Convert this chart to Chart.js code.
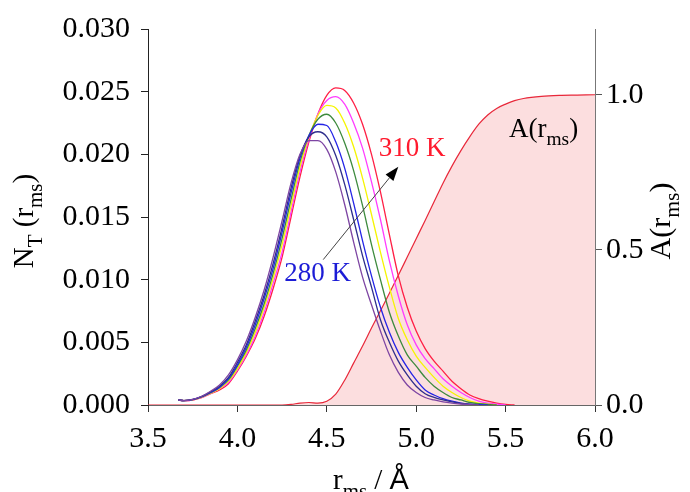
<!DOCTYPE html>
<html>
<head>
<meta charset="utf-8">
<script src="https://cdn.jsdelivr.net/npm/chart.js@4.4.0/dist/chart.umd.min.js"></script>
<style>
  html, body { margin: 0; padding: 0; background: #fff; }
  #c { display: block; }
</style>
</head>
<body>
<canvas id="c" width="690" height="492"></canvas>
<script>
// r_ms grid (Å) shared by the N_T curves
const rGrid = [3.67, 3.70, 3.75, 3.80, 3.85, 3.90, 3.95, 4.00, 4.05, 4.10, 4.15, 4.20, 4.25, 4.30, 4.35, 4.40, 4.45, 4.50, 4.55, 4.60,
  4.65, 4.70, 4.75, 4.80, 4.85, 4.90, 4.95, 5.00, 5.05, 5.10, 5.15, 5.20, 5.25, 5.30, 5.35, 5.40, 5.45, 5.50, 5.55, 5.60];

// N_T(r_ms) per temperature
const n280 = [.0004, .00035, .00045, .0007, .0011, .0016, .0024, .0036, .0051, .0070, .0092, .0118, .0147, .0177, .0200, .0211, .0211, .0204, .0186, .0160,
  .0130, .0102, .0080, .0059, .0040, .0026, .0016, .0010, .0006, .0004, .00025, .00015, .00008, .00003, 0, null, null, null, null, null];
const n285 = [.0004, .00035, .00044, .00068, .00105, .0015, .0022, .0034, .0048, .0067, .0088, .0113, .0142, .0173, .0199, .0214, .0218, .0214, .0199, .0176,
  .0148, .0119, .0094, .0068, .0050, .0035, .0024, .0015, .0009, .0006, .0004, .00025, .00012, .00005, 0, null, null, null, null, null];
const n290 = [.0004, .00035, .00043, .00066, .0010, .0014, .0021, .0032, .0046, .0064, .0085, .0109, .0138, .0169, .0197, .0215, .0224, .0223, .0210, .0189,
  .0161, .0131, .0103, .0078, .0058, .0042, .0030, .0020, .0012, .0008, .0005, .0003, .00015, .00007, .00003, 0, null, null, null, null];
const n295 = [.0004, .00035, .00042, .00064, .00098, .0014, .0020, .0031, .0044, .0061, .0081, .0105, .0133, .0164, .0194, .0215, .0228, .0232, .0225, .0209,
  .0187, .0159, .0128, .0100, .0074, .0055, .0040, .0031, .0022, .0015, .0010, .0006, .0004, .0002, .0001, .00004, 0, null, null, null];
const n300 = [.0004, .00035, .00041, .00062, .00095, .0013, .0019, .0029, .0042, .0058, .0078, .0101, .0128, .0159, .0190, .0214, .0231, .0239, .0237, .0225,
  .0206, .0181, .0152, .0122, .0094, .0069, .0052, .0039, .0030, .0022, .0015, .0010, .0006, .0003, .00015, .00006, 0, null, null, null];
const n305 = [.0004, .00035, .0004, .0006, .00092, .0013, .0018, .0028, .0040, .0055, .0074, .0097, .0122, .0154, .0186, .0212, .0232, .0243, .0246, .0240,
  .0225, .0205, .0178, .0148, .0115, .0087, .0064, .0048, .0037, .0029, .0021, .0015, .0010, .0006, .0003, .00015, .00007, 0, null, null];
const n310 = [.0004, .00035, .0004, .00058, .0009, .0012, .0017, .0027, .0039, .0053, .0071, .0093, .0118, .0150, .0182, .0210, .0232, .0247, .0253, .0251,
  .0241, .0224, .0200, .0170, .0136, .0103, .0078, .0059, .0045, .0035, .0027, .0019, .0013, .0008, .0005, .0003, .00015, .00005, 0, null];

// A(r_ms) cumulative curve
const aX = [3.50, 4.25, 4.30, 4.35, 4.40, 4.45, 4.50, 4.55, 4.60, 4.65, 4.70, 4.75, 4.80, 4.85, 4.90, 4.95, 5.00, 5.05, 5.10, 5.15,
  5.20, 5.25, 5.30, 5.35, 5.40, 5.45, 5.50, 5.55, 5.60, 5.70, 5.80, 5.90, 6.00];
const aY = [0, 0, 0.002, 0.006, 0.008, 0.006, 0.012, 0.035, 0.08, 0.135, 0.19, 0.248, 0.304, 0.36, 0.418, 0.477, 0.536, 0.595, 0.655, 0.715,
  0.77, 0.82, 0.865, 0.905, 0.935, 0.956, 0.970, 0.981, 0.988, 0.995, 0.998, 0.999, 1.0];

// tick labels
const xTicks = [3.5, 4.0, 4.5, 5.0, 5.5, 6.0];
const yTicks = [0, 0.005, 0.010, 0.015, 0.020, 0.025, 0.030];
const aTicks = [0, 0.5, 1.0];

const series = [
  { data: n280, color: '#7d45a3' },
  { data: n285, color: '#2e2e8c' },
  { data: n290, color: '#2424e6' },
  { data: n295, color: '#3d8a3d' },
  { data: n300, color: '#f5f500' },
  { data: n305, color: '#ff3cff' },
  { data: n310, color: '#ff1f45' }
];

const serif = '"Liberation Serif", "Times New Roman", serif';
const sans = '"Liberation Sans", Arial, sans-serif';

// texte avec indices (N_T, r_ms ...)
function richWidth(ctx, parts, size) {
  let w = 0;
  parts.forEach(p => {
    ctx.font = (p.sub ? size * 0.72 : size) + 'px ' + (p.sans ? sans : serif);
    w += ctx.measureText(p.t).width;
  });
  return w;
}
function drawRich(ctx, parts, x, y, size, color, center) {
  let cx = center ? x - richWidth(ctx, parts, size) / 2 : x;
  ctx.fillStyle = color;
  ctx.textBaseline = 'alphabetic';
  ctx.textAlign = 'left';
  parts.forEach(p => {
    ctx.font = (p.sub ? size * 0.72 : size) + 'px ' + (p.sans ? sans : serif);
    ctx.fillText(p.t, cx, p.sub ? y + size * 0.3 : y);
    cx += ctx.measureText(p.t).width;
  });
}

const textPlugin = {
  id: 'texts',
  afterDraw(chart) {
    const { ctx, scales } = chart;
    const x = scales.x, y = scales.y, y2 = scales.y2;
    ctx.save();

    // titres des axes
    ctx.save();
    ctx.translate(33, 221);
    ctx.rotate(-Math.PI / 2);
    drawRich(ctx, [{ t: 'N' }, { t: 'T', sub: true }, { t: ' (r' }, { t: 'ms', sub: true }, { t: ')' }], 0, 0, 29, '#000', true);
    ctx.restore();

    ctx.save();
    ctx.translate(670, 221);
    ctx.rotate(-Math.PI / 2);
    drawRich(ctx, [{ t: 'A(r' }, { t: 'ms', sub: true }, { t: ')' }], 0, 0, 30, '#000', true);
    ctx.restore();

    drawRich(ctx, [{ t: 'r' }, { t: 'ms', sub: true }, { t: ' / ' }, { t: 'Å', sans: true }], 371, 489, 29, '#000', true);

    // annotations
    drawRich(ctx, [{ t: 'A(r' }, { t: 'ms', sub: true }, { t: ')' }], x.getPixelForValue(5.519), y2.getPixelForValue(0.865), 27, '#000', false);
    drawRich(ctx, [{ t: '310 K' }], x.getPixelForValue(4.79), y.getPixelForValue(0.0199), 27, '#ff1a2e', false);
    drawRich(ctx, [{ t: '280 K' }], x.getPixelForValue(4.262), y.getPixelForValue(0.0099), 27, '#1c1cd6', false);

    // flèche 280 K -> 310 K
    const x0 = x.getPixelForValue(4.48), y0 = y.getPixelForValue(0.0116);
    const x1 = x.getPixelForValue(4.90), y1 = y.getPixelForValue(0.0190);
    const ang = Math.atan2(y1 - y0, x1 - x0);
    const hl = 14, hw = 5;
    const bx = x1 - hl * Math.cos(ang), by = y1 - hl * Math.sin(ang);
    ctx.strokeStyle = '#444';
    ctx.lineWidth = 1;
    ctx.beginPath();
    ctx.moveTo(x0, y0);
    ctx.lineTo(bx, by);
    ctx.stroke();
    ctx.fillStyle = '#000';
    ctx.beginPath();
    ctx.moveTo(x1, y1);
    ctx.lineTo(bx + hw * Math.sin(ang), by - hw * Math.cos(ang));
    ctx.lineTo(bx - hw * Math.sin(ang), by + hw * Math.cos(ang));
    ctx.closePath();
    ctx.fill();

    ctx.restore();
  }
};

const datasets = series.map(s => ({
  data: rGrid.map((r, i) => ({ x: r, y: s.data[i] })),
  borderColor: s.color,
  borderWidth: 1.3,
  pointRadius: 0,
  fill: false,
  spanGaps: false,
  cubicInterpolationMode: 'monotone',
  yAxisID: 'y',
  order: 0
}));
datasets.push({
  data: aX.map((r, i) => ({ x: r, y: aY[i] })),
  borderColor: '#e8283a',
  borderWidth: 1.2,
  backgroundColor: 'rgba(250, 190, 192, 0.5)',
  fill: 'origin',
  pointRadius: 0,
  cubicInterpolationMode: 'monotone',
  yAxisID: 'y2',
  order: 10
});

const tickFont = { family: serif, size: 30 };

new Chart(document.getElementById('c'), {
  type: 'line',
  data: { datasets },
  plugins: [textPlugin],
  options: {
    responsive: false,
    animation: false,
    devicePixelRatio: 1,
    layout: { padding: { top: 22, left: 0, right: 0, bottom: 0 } },
    plugins: { legend: { display: false }, tooltip: { enabled: false } },
    scales: {
      x: {
        type: 'linear', min: 3.5, max: 6.0,
        afterBuildTicks: s => { s.ticks = xTicks.map(v => ({ value: v })); },
        afterFit: s => { s.height = 87; },
        ticks: { font: tickFont, color: '#000', padding: 9, maxRotation: 0, callback: v => v.toFixed(1) },
        grid: { drawOnChartArea: false, drawTicks: true, tickLength: 7, color: '#333' },
        border: { display: true, color: '#666', width: 1 }
      },
      y: {
        type: 'linear', position: 'left', min: 0, max: 0.030,
        afterBuildTicks: s => { s.ticks = yTicks.map(v => ({ value: v })); },
        afterFit: s => { s.width = 148; },
        ticks: { font: tickFont, color: '#000', padding: 11, callback: v => v.toFixed(3) },
        grid: { drawOnChartArea: false, drawTicks: true, tickLength: 7, color: '#222' },
        border: { display: true, color: '#222', width: 1 }
      },
      y2: {
        type: 'linear', position: 'right', min: 0, max: 1.212,
        afterBuildTicks: s => { s.ticks = aTicks.map(v => ({ value: v })); },
        afterFit: s => { s.width = 95; },
        ticks: { font: tickFont, color: '#000', padding: 4, callback: v => v.toFixed(1) },
        grid: { drawOnChartArea: false, drawTicks: true, tickLength: 7, color: '#555' },
        border: { display: true, color: '#777', width: 1 }
      }
    }
  }
});
</script>
</body>
</html>
